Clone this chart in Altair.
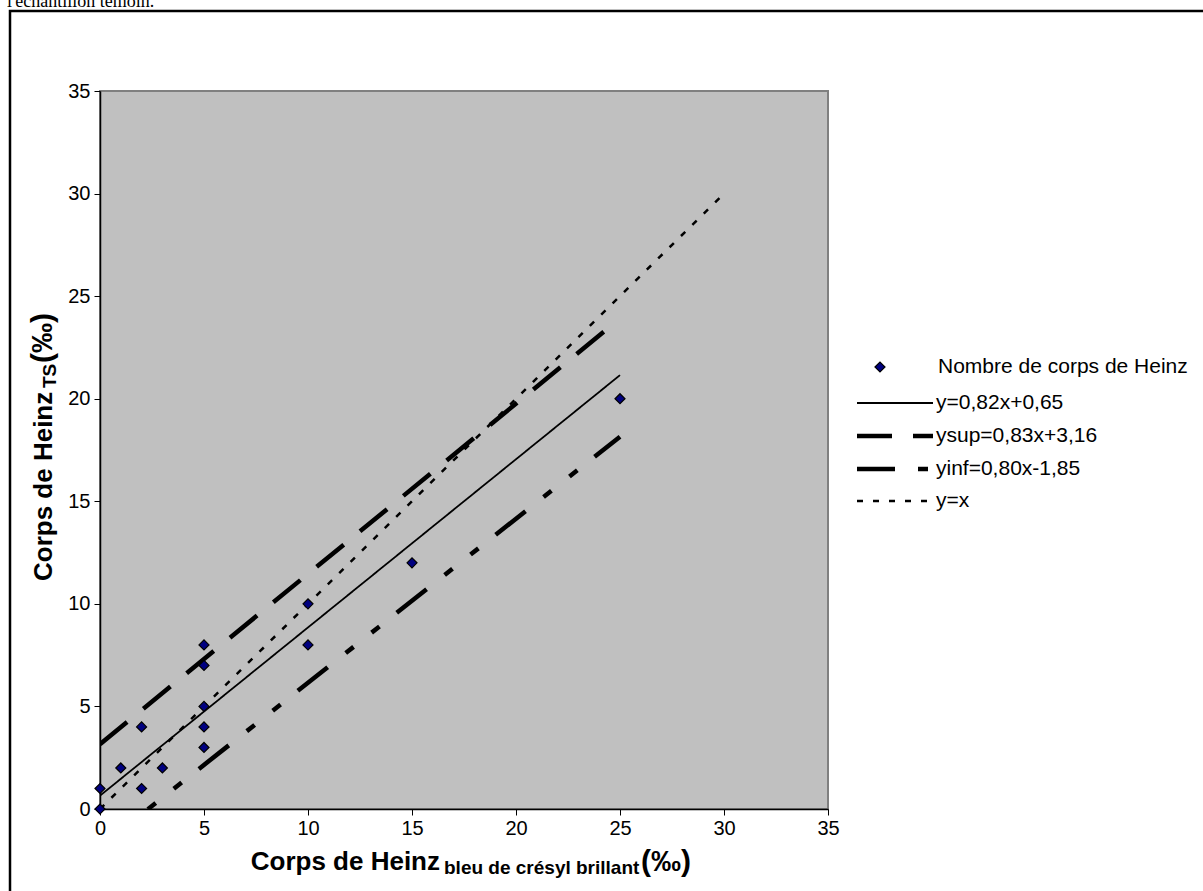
import altair as alt
import pandas as pd

# ---- data ----
pt_x = [0, 0, 1, 2, 2, 3, 5, 5, 5, 5, 5, 10, 10, 15, 25]
pt_y = [0, 1, 2, 4, 1, 2, 8, 7, 5, 4, 3, 10, 8, 12, 20]
pt_label = "Nombre de corps de Heinz"

line_names = ["y=0,82x+0,65", "ysup=0,83x+3,16", "yinf=0,80x-1,85", "y=x"]
line_x = [[0, 25], [0, 25], [0, 25], [0, 30]]
line_y = [[0.65, 21.15], [3.16, 23.91], [-1.85, 18.15], [0, 30]]
line_dash = [[1, 0], [35, 21], [38, 23, 10, 23, 10, 22], [6, 10]]
line_width = [1.8, 4.5, 4.5, 2.5]

ticks = [0, 5, 10, 15, 20, 25, 30, 35]
x_title_parts = ["Corps de Heinz", "bleu de crésyl brillant", "(‰)"]
y_title_parts = ["Corps de Heinz", "TS", "(‰)"]
top_text = "l'échantillon témoin."

W, H = 728, 718
FONT = "Liberation Sans"

pts = pd.DataFrame({"x": pt_x, "y": pt_y})
rows = []
for n, xs_, ys_ in zip(line_names, line_x, line_y):
    for xv, yv in zip(xs_, ys_):
        rows.append({"x": xv, "y": yv, "serie": n})
lines = pd.DataFrame(rows)

xs = alt.Scale(domain=[0, 35], nice=False, zero=False)
ys = alt.Scale(domain=[0, 35], nice=False, zero=False)
common_axis = dict(values=ticks, title=None, grid=False, labelFont=FONT, labelFontSize=20,
                   labelColor="black", tickColor="black", domainColor="black", tickSize=6,
                   domainWidth=1.5, labelFlush=False, labelOverlap=False)
xax = alt.Axis(labelPadding=3, **common_axis)
yax = alt.Axis(labelPadding=4, **common_axis)

line_layers = []
for i, n in enumerate(line_names):
    d = lines[lines.serie == n]
    line_layers.append(
        alt.Chart(d).mark_line(clip=True, color="black", strokeDash=line_dash[i],
                               strokeWidth=line_width[i]).encode(
            x=alt.X("x:Q", scale=xs, axis=xax),
            y=alt.Y("y:Q", scale=ys, axis=yax),
        )
    )

pt_layer = alt.Chart(pts).mark_point(shape="diamond", filled=True, fill="#000080",
                                     stroke="black", strokeWidth=1.2, size=100,
                                     opacity=1).encode(
    x=alt.X("x:Q", scale=xs),
    y=alt.Y("y:Q", scale=ys),
)

one = pd.DataFrame({"a": [0]})

def txt(t, x, y, size, bold=False, angle=0, font=FONT, align="left", baseline="alphabetic"):
    kw = dict(text=t, fontSize=size, font=font, align=align, baseline=baseline,
              color="black", angle=angle)
    if bold:
        kw["fontWeight"] = "bold"
    return alt.Chart(one).mark_text(**kw).encode(x=alt.value(x), y=alt.value(y))

# ---- legend (drawn by hand, right of the plot) ----
leg_rows_y = [276, 312, 345, 378, 410]
legend = [
    alt.Chart(one).mark_point(shape="diamond", filled=True, fill="#000080", stroke="black",
                              strokeWidth=1.2, size=100, opacity=1).encode(
        x=alt.value(780), y=alt.value(leg_rows_y[0])),
    txt(pt_label, 838, leg_rows_y[0], 21, baseline="middle"),
]
for i, n in enumerate(line_names):
    yy = leg_rows_y[i + 1]
    legend.append(
        alt.Chart(one).mark_rule(color="black", strokeDash=line_dash[i],
                                 strokeWidth=line_width[i]).encode(
            x=alt.value(757), x2=alt.value(833), y=alt.value(yy))
    )
    legend.append(txt(n, 836, yy, 21, baseline="middle"))

titles = [
    txt(x_title_parts[0], 340, 779, 26, True, align="right"),
    txt(x_title_parts[1], 344, 783, 19, True),
    txt(x_title_parts[2], 541, 780, 30, True),
    txt(y_title_parts[0], -48, 490, 26, True, angle=270),
    txt(y_title_parts[1], -44, 297, 19, True, angle=270),
    txt(y_title_parts[2], -48, 272, 30, True, angle=270),
    txt(top_text, -93, -84, 18, font="Liberation Serif"),
]

frame = alt.Chart(one).mark_rect(fillOpacity=0, stroke="black", strokeWidth=2.5).encode(
    x=alt.value(-90), x2=alt.value(1250), y=alt.value(-80), y2=alt.value(950))

chart = alt.layer(frame, *line_layers, pt_layer, *legend, *titles).properties(
    width=W, height=H,
    padding={"left": 100, "top": 91, "right": 375, "bottom": 82},
    autosize=alt.AutoSizeParams(type="none"),
    background="white",
).configure_view(fill="#C0C0C0", stroke="#808080", strokeWidth=2)

chart.save("out.html", embed_options={"renderer": "svg", "actions": False})
